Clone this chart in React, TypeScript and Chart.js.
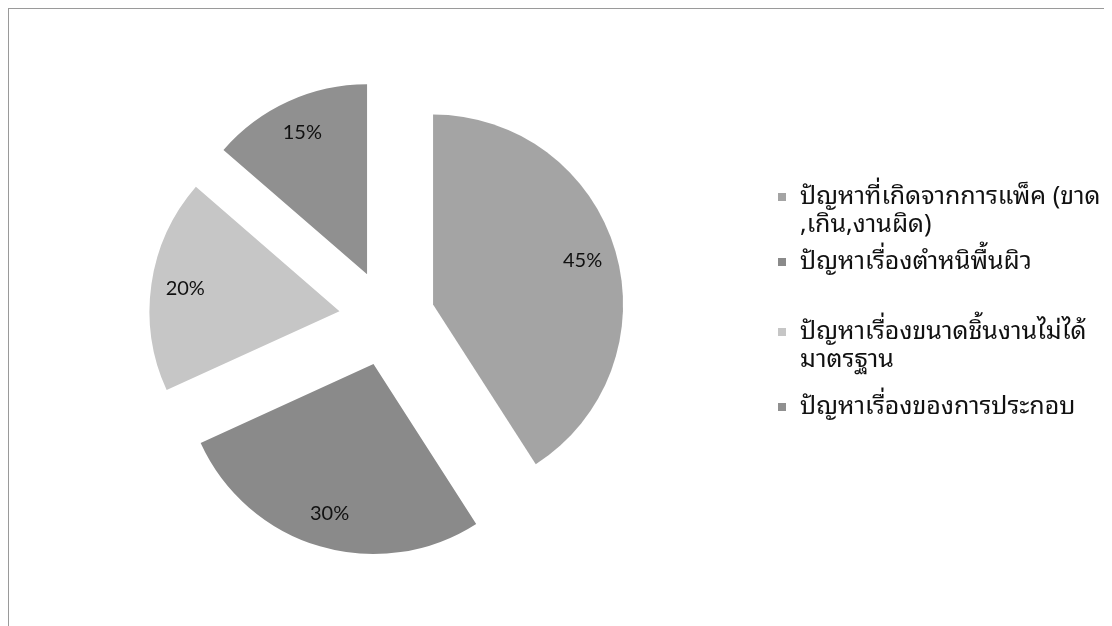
import React, { useEffect, useRef } from "react";
import { Chart, registerables } from "chart.js";

Chart.register(...registerables);

const categories: string[][] = [
  ["ปัญหาที่เกิดจากการแพ็ค (ขาด", ",เกิน,งานผิด)"],
  ["ปัญหาเรื่องตำหนิพื้นผิว"],
  ["ปัญหาเรื่องขนาดชิ้นงานไม่ได้", "มาตรฐาน"],
  ["ปัญหาเรื่องของการประกอบ"],
];
const values: number[] = [45, 30, 20, 15];
const valueLabels: string[] = ["45%", "30%", "20%", "15%"];

const colors = ["#a4a4a4", "#8a8a8a", "#c6c6c6", "#909090"];
const EXPLODE = 48;
const THAI_FONT = "'Noto Sans Thai Looped', 'Noto Sans Thai', 'Noto Sans', Tahoma, sans-serif";

export default function App() {
  const ref = useRef<HTMLCanvasElement | null>(null);

  useEffect(() => {
    if (!ref.current) return;

    // Explode each slice outward along its bisector after the library lays it out
    const explodePlugin = {
      id: "explodeSlices",
      afterDatasetUpdate(chart: any, args: any) {
        const meta = args.meta || chart.getDatasetMeta(args.index);
        meta.data.forEach((arc: any) => {
          const mid = (arc.startAngle + arc.endAngle) / 2;
          arc.x = arc.x + Math.cos(mid) * EXPLODE;
          arc.y = arc.y + Math.sin(mid) * EXPLODE;
        });
      },
    };

    const labelPlugin = {
      id: "sliceLabels",
      afterDatasetsDraw(chart: any) {
        const ctx = chart.ctx;
        const meta = chart.getDatasetMeta(0);
        ctx.save();
        ctx.font = "20px Lato, 'Open Sans', sans-serif";
        ctx.fillStyle = "#111";
        ctx.textAlign = "center";
        ctx.textBaseline = "middle";
        meta.data.forEach((arc: any, i: number) => {
          const { startAngle, endAngle, x, y, outerRadius } = arc.getProps(
            ["startAngle", "endAngle", "x", "y", "outerRadius"],
            true
          );
          const mid = (startAngle + endAngle) / 2;
          const d = outerRadius * 0.82;
          ctx.fillText(valueLabels[i], x + Math.cos(mid) * d, y + Math.sin(mid) * d);
        });
        ctx.restore();
      },
    };

    const legendPlugin = {
      id: "sideLegend",
      afterDraw(chart: any) {
        const ctx = chart.ctx;
        const itemY = [188, 253, 323, 398];
        const lineH = 28;
        ctx.save();
        ctx.font = "25px " + THAI_FONT;
        ctx.textBaseline = "middle";
        ctx.textAlign = "left";
        categories.forEach((lines, i) => {
          ctx.fillStyle = colors[i];
          ctx.fillRect(769, itemY[i] - 4, 8, 8);
          ctx.fillStyle = "#111";
          lines.forEach((ln, j) => {
            ctx.fillText(ln, 791, itemY[i] + j * lineH);
          });
        });
        ctx.restore();
      },
    };

    const chart = new Chart(ref.current, {
      type: "pie",
      data: {
        labels: categories.map((l) => l.join(" ")),
        datasets: [
          {
            data: values,
            backgroundColor: colors,
            borderWidth: 0,
            offset: 0,
            hoverOffset: 0,
          } as any,
        ],
      },
      options: {
        animation: false,
        responsive: false,
        layout: { padding: { left: 0, right: 347, top: 119, bottom: 118 } },
        plugins: {
          legend: { display: false },
          tooltip: { enabled: false },
        },
      } as any,
      plugins: [explodePlugin, labelPlugin, legendPlugin],
    });
    return () => chart.destroy();
  }, []);

  return (
    <div
      style={{
        width: 1104,
        height: 618,
        borderTop: "1px solid #9a9a9a",
        borderLeft: "1px solid #9a9a9a",
        boxSizing: "border-box",
        overflow: "hidden",
      }}
    >
      <canvas ref={ref} width={1103} height={617} style={{ display: "block" }} />
    </div>
  );
}
